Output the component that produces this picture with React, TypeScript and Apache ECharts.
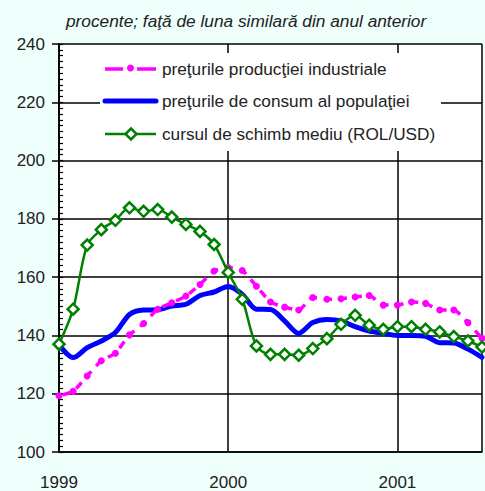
import React, { useEffect, useRef } from 'react';
import * as echarts from 'echarts';

const months: string[] = [
  '1999-01', '1999-02', '1999-03', '1999-04', '1999-05', '1999-06', '1999-07', '1999-08', '1999-09', '1999-10', '1999-11', '1999-12',
  '2000-01', '2000-02', '2000-03', '2000-04', '2000-05', '2000-06', '2000-07', '2000-08', '2000-09', '2000-10', '2000-11', '2000-12',
  '2001-01', '2001-02', '2001-03', '2001-04', '2001-05', '2001-06', '2001-07',
];
const yearLabels: string[] = ['1999', '2000', '2001'];

const ppi: number[] = [119.3, 120.8, 126.1, 131.3, 133.9, 140.2, 144.1, 149.0, 151.2, 153.5, 157.5, 162.1, 163.3, 162.3, 156.9, 151.5, 149.7, 148.7, 153.0, 152.4, 152.6, 153.2, 153.7, 150.4, 150.4, 151.5, 151.0, 148.7, 148.7, 144.4, 139.0];
const cpi: number[] = [136.8, 132.4, 135.8, 138.1, 141.0, 147.2, 148.7, 148.8, 150.1, 150.7, 153.7, 154.9, 156.8, 154.1, 149.0, 148.9, 145.0, 140.7, 144.4, 145.5, 145.0, 143.0, 141.5, 140.7, 140.0, 140.0, 139.7, 137.5, 137.4, 135.3, 132.5];
const fx: number[] = [137.0, 149.0, 171.0, 176.3, 179.5, 183.8, 182.6, 183.2, 180.6, 178.1, 175.7, 171.2, 161.6, 152.4, 136.4, 133.5, 133.5, 133.2, 135.5, 138.9, 143.8, 146.9, 143.5, 142.1, 143.0, 143.0, 142.1, 141.2, 139.6, 138.1, 136.0];

const seriesNames: string[] = [
  'preţurile producţiei industriale',
  'preţurile de consum al populaţiei',
  'cursul de schimb mediu (ROL/USD)',
];
const titleText = 'procente; faţă de luna similară din anul anterior';

const FONT = '"Liberation Sans", Arial, Helvetica, sans-serif';
const TXT = '#222';
const PINK = '#FF00FF';
const BLUE = '#0000FF';
const GREEN = '#008000';

const toPairs = (arr: number[]) => arr.map((v, i) => [i, v]);

export default function App() {
  const ref = useRef<HTMLDivElement>(null);
  useEffect(() => {
    if (!ref.current) return;
    const chart = echarts.init(ref.current, undefined, { renderer: 'svg' });
    const lx = 105, lx2 = 156, ltx = 162;
    const ly = [69, 101, 134];
    const option: any = {
      animation: false,
      backgroundColor: '#EFFFFB',
      textStyle: { fontFamily: FONT },
      grid: {
        left: 59, top: 44, right: -9, bottom: 38,
        show: true, backgroundColor: '#ffffff', borderWidth: 0,
      },
      xAxis: {
        type: 'value', min: 0, max: months.length - 1, interval: 12,
        axisLine: { show: true, lineStyle: { color: '#000', width: 1.5 } },
        axisTick: { show: false },
        axisLabel: {
          color: TXT, fontSize: 17, fontFamily: FONT, margin: 22,
          formatter: (v: number) => (v % 12 === 0 ? yearLabels[v / 12] ?? '' : ''),
        },
        splitLine: { show: true, lineStyle: { color: '#000', width: 1.5 } },
      },
      yAxis: [
        {
          type: 'value', min: 100, max: 240, interval: 20,
          axisLine: { show: true, lineStyle: { color: '#000', width: 1.5 } },
          axisTick: { show: true, inside: false, length: 7, lineStyle: { color: '#000', width: 1.5 } },
          axisLabel: { color: TXT, fontSize: 17, fontFamily: FONT, margin: 14 },
          splitLine: { show: true, lineStyle: { color: '#000', width: 1.5 } },
        },
        {
          type: 'value', min: 100, max: 240, interval: 2, position: 'left', offset: 0,
          axisLine: { show: true, lineStyle: { color: '#000', width: 1.5 } },
          axisTick: { show: true, inside: true, length: 4, lineStyle: { color: '#000', width: 1.2 } },
          axisLabel: { show: false },
          splitLine: { show: false },
        },
      ],
      series: [
        {
          name: seriesNames[1], type: 'line', data: toPairs(cpi), smooth: 0.3,
          symbol: 'none', lineStyle: { color: BLUE, width: 5, cap: 'round', join: 'round' },
          itemStyle: { color: BLUE }, z: 2,
        },
        {
          name: seriesNames[0], type: 'line', data: toPairs(ppi), smooth: 0.2,
          symbol: 'circle', symbolSize: 7, showAllSymbol: true,
          lineStyle: { color: PINK, width: 3.5, type: [8, 7], dashOffset: -4 },
          itemStyle: { color: PINK }, z: 3,
        },
        {
          name: seriesNames[2], type: 'line', data: toPairs(fx), smooth: 0.3,
          symbol: 'diamond', symbolSize: 11, showAllSymbol: true,
          lineStyle: { color: GREEN, width: 2.5 },
          itemStyle: { color: '#ffffff', borderColor: GREEN, borderWidth: 2.5 }, z: 4,
        },
      ],
      graphic: [
        {
          type: 'text', x: 66, y: 21, z: 10,
          style: { text: titleText, fill: TXT, font: `italic 17.3px ${FONT}`, verticalAlign: 'middle', textVerticalAlign: 'middle' },
        },
        { type: 'rect', z: 10, shape: { x: 100, y: 53, width: 341, height: 98 }, style: { fill: '#ffffff' } },
        { type: 'line', z: 11, shape: { x1: lx, y1: ly[0], x2: lx + 18, y2: ly[0] }, style: { stroke: PINK, lineWidth: 3.5 } },
        { type: 'line', z: 11, shape: { x1: lx2 - 19, y1: ly[0], x2: lx2, y2: ly[0] }, style: { stroke: PINK, lineWidth: 3.5 } },
        { type: 'circle', z: 11, shape: { cx: 130.5, cy: ly[0] - 1, r: 3.5 }, style: { fill: PINK } },
        { type: 'line', z: 11, shape: { x1: lx, y1: ly[1], x2: lx2, y2: ly[1] }, style: { stroke: BLUE, lineWidth: 5, lineCap: 'round' } },
        { type: 'line', z: 11, shape: { x1: lx, y1: ly[2], x2: lx2, y2: ly[2] }, style: { stroke: GREEN, lineWidth: 2.5 } },
        {
          type: 'polygon', z: 12,
          shape: { points: [[131, ly[2] - 5.5], [136.5, ly[2]], [131, ly[2] + 5.5], [125.5, ly[2]]] },
          style: { fill: '#ffffff', stroke: GREEN, lineWidth: 2.5 },
        },
        ...seriesNames.map((t, i) => ({
          type: 'text', z: 12, x: ltx, y: ly[i],
          style: { text: t, fill: TXT, font: `17.2px ${FONT}`, textVerticalAlign: 'middle', verticalAlign: 'middle' },
        })),
      ],
    };
    chart.setOption(option);
    return () => chart.dispose();
  }, []);
  return <div ref={ref} style={{ position: 'fixed', left: 0, top: 0, width: 485, height: 491 }} />;
}
